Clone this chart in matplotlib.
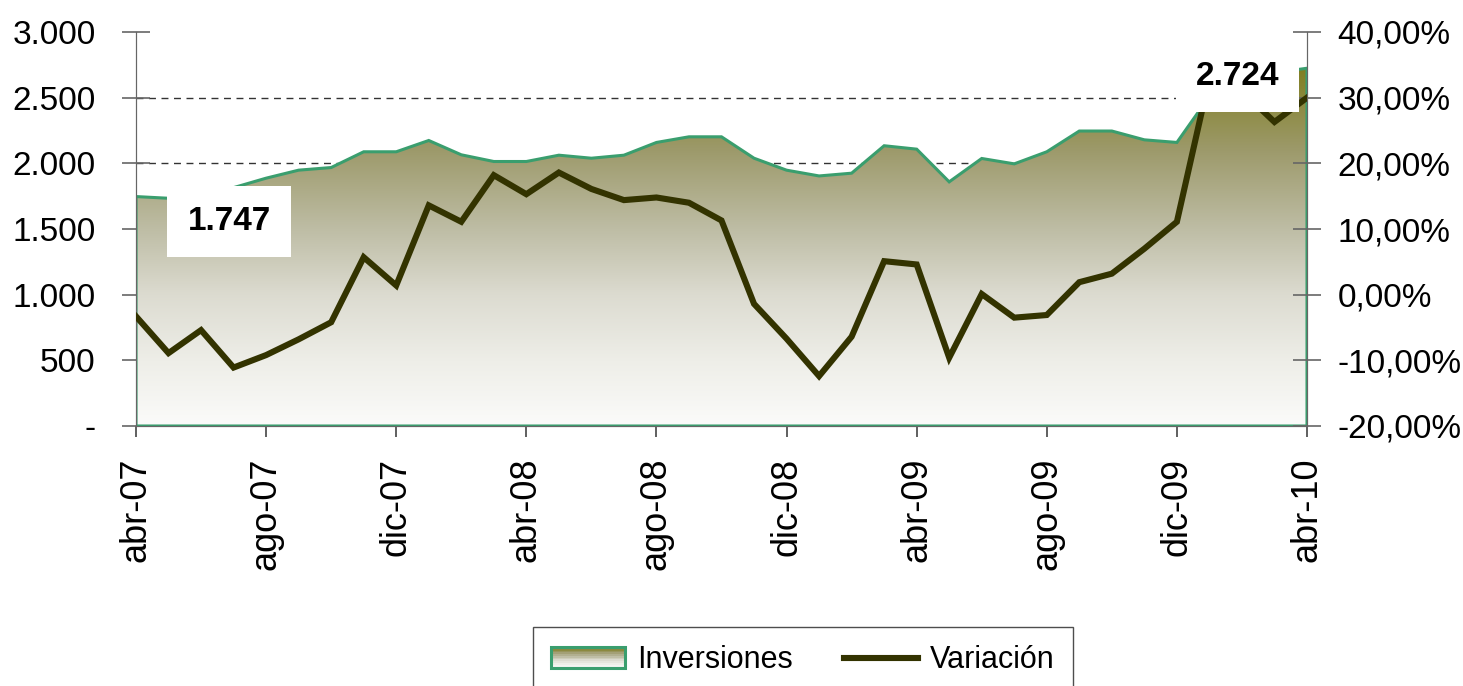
import numpy as np
import matplotlib
matplotlib.use('Agg')
import matplotlib.pyplot as plt
from matplotlib.colors import LinearSegmentedColormap
from matplotlib.patches import Polygon, Rectangle
from matplotlib.lines import Line2D
from matplotlib.legend_handler import HandlerBase
from matplotlib.ticker import FuncFormatter, MultipleLocator

plt.rcParams['font.family'] = ['Liberation Sans', 'DejaVu Sans']

tick_labels = ['abr-07', 'ago-07', 'dic-07', 'abr-08', 'ago-08',
               'dic-08', 'abr-09', 'ago-09', 'dic-09', 'abr-10']
inversiones = [1747, 1734, 1745, 1815, 1887, 1948, 1968, 2088, 2088, 2174,
               2065, 2014, 2014, 2062, 2039, 2062, 2159, 2202, 2202, 2039,
               1948, 1904, 1925, 2134, 2108, 1859, 2037, 1996, 2088, 2246,
               2246, 2179, 2159, 2510, 2620, 2690, 2724]
variacion = [-3.3, -8.9, -5.4, -11.1, -9.2, -6.8, -4.2, 5.7, 1.4, 13.6,
             11.1, 18.2, 15.3, 18.6, 16.1, 14.4, 14.8, 14.0, 11.3, -1.4,
             -6.7, -12.4, -6.4, 5.1, 4.6, -9.6, 0.1, -3.5, -3.1, 1.9,
             3.2, 7.0, 11.1, 33.0, 31.0, 26.3, 30.0]

green = '#3a9e6e'
dark = '#333300'
grad = LinearSegmentedColormap.from_list('g', [
    (0.0, '#fbfbfa'), (0.18, '#eeeee8'), (0.367, '#dcdbd0'),
    (0.55, '#bebda5'), (0.77, '#9d9a6b'), (1.0, '#807e22')])

x = np.arange(len(inversiones))
fig = plt.figure(figsize=(14.63, 6.86), dpi=100)
ax = fig.add_axes([136/1463, 1-426/686, (1307-136)/1463, (426-32)/686])
ax2 = ax.twinx()

# gradient area
vmax = max(inversiones)
verts = [(0, 0)] + list(zip(x, inversiones)) + [(x[-1], 0)]
poly = Polygon(verts, closed=True, facecolor='none', edgecolor=green,
               lw=2.2, zorder=3)
ax.add_patch(poly)
img = ax.imshow(np.linspace(0, 1, 256).reshape(-1, 1), cmap=grad,
                aspect='auto', origin='lower', extent=(0, x[-1], 0, vmax),
                zorder=2, interpolation='bilinear')
img.set_clip_path(poly)

ax.set_xlim(0, 36)
ax.set_ylim(0, 3000)
ax.yaxis.set_major_locator(MultipleLocator(500))
ax.yaxis.set_major_formatter(FuncFormatter(
    lambda v, p: '-' if v == 0 else f'{int(v):,}'.replace(',', '.')))
for v in np.arange(500, 3000, 500):
    ax.axhline(v, color='#333333', ls=(0, (5, 4)), lw=1, zorder=1)
ax.set_xticks(np.arange(0, 37, 4))
ax.set_xticklabels(tick_labels, rotation=90)

ax2.plot(x, variacion, color=dark, lw=4.4, solid_joinstyle='miter', zorder=4)
ax2.set_ylim(-20, 40)
ax2.yaxis.set_major_locator(MultipleLocator(10))
ax2.yaxis.set_major_formatter(FuncFormatter(
    lambda v, p: f'{v:.2f}%'.replace('.', ',')))

for a in (ax, ax2):
    a.spines['top'].set_visible(False)
    for s in a.spines.values():
        s.set_color('#666666')
ax.tick_params(axis='y', direction='inout', length=20, width=1.2,
               color='#666666', labelsize=24, pad=19)
ax.tick_params(axis='x', direction='out', length=8, width=1.2,
               color='#444444', labelsize=26, pad=15)
ax2.tick_params(axis='y', direction='inout', length=20, width=1.2,
                color='#666666', labelsize=24, pad=12)

box = dict(boxstyle='square,pad=0.6', fc='white', ec='none')
ax2.annotate(f'{inversiones[0]:,}'.replace(',', '.'), xy=(0, inversiones[0]),
             xycoords=ax.transData, xytext=(67, -18), textcoords='offset points',
             ha='center', va='center', fontsize=24, fontweight='bold',
             bbox=box, zorder=6)
ax2.annotate(f'{inversiones[-1]:,}'.replace(',', '.'), xy=(36, inversiones[-1]),
             xycoords=ax.transData, xytext=(-50, -6), textcoords='offset points',
             ha='center', va='center', fontsize=24, fontweight='bold',
             bbox=box, zorder=6)


class GradientHandler(HandlerBase):
    def create_artists(self, legend, orig, xd, yd, w, h, fs, trans):
        arts = []
        n = 12
        for k in range(n):
            arts.append(Rectangle((xd, yd + h * k / n), w, h / n,
                                  fc=grad(k / (n - 1)), ec='none',
                                  transform=trans))
        arts.append(Rectangle((xd, yd), w, h, fc='none', ec=green, lw=2.2,
                              transform=trans))
        return arts


h_inv = Rectangle((0, 0), 1, 1)
h_var = Line2D([], [], color=dark, lw=4.4)
leg = fig.legend([h_inv, h_var], ['Inversiones', 'Variación'], ncol=2,
                 loc='upper center', bbox_to_anchor=(803/1463, 1-627/686),
                 borderaxespad=0, fontsize=22, frameon=True, fancybox=False,
                 edgecolor='#222222', handlelength=2.4, handleheight=0.7,
                 handletextpad=0.4, columnspacing=1.7, borderpad=0.6,
                 handler_map={Rectangle: GradientHandler()})
leg.get_frame().set_linewidth(1)

fig.savefig('out.png', dpi=100)
